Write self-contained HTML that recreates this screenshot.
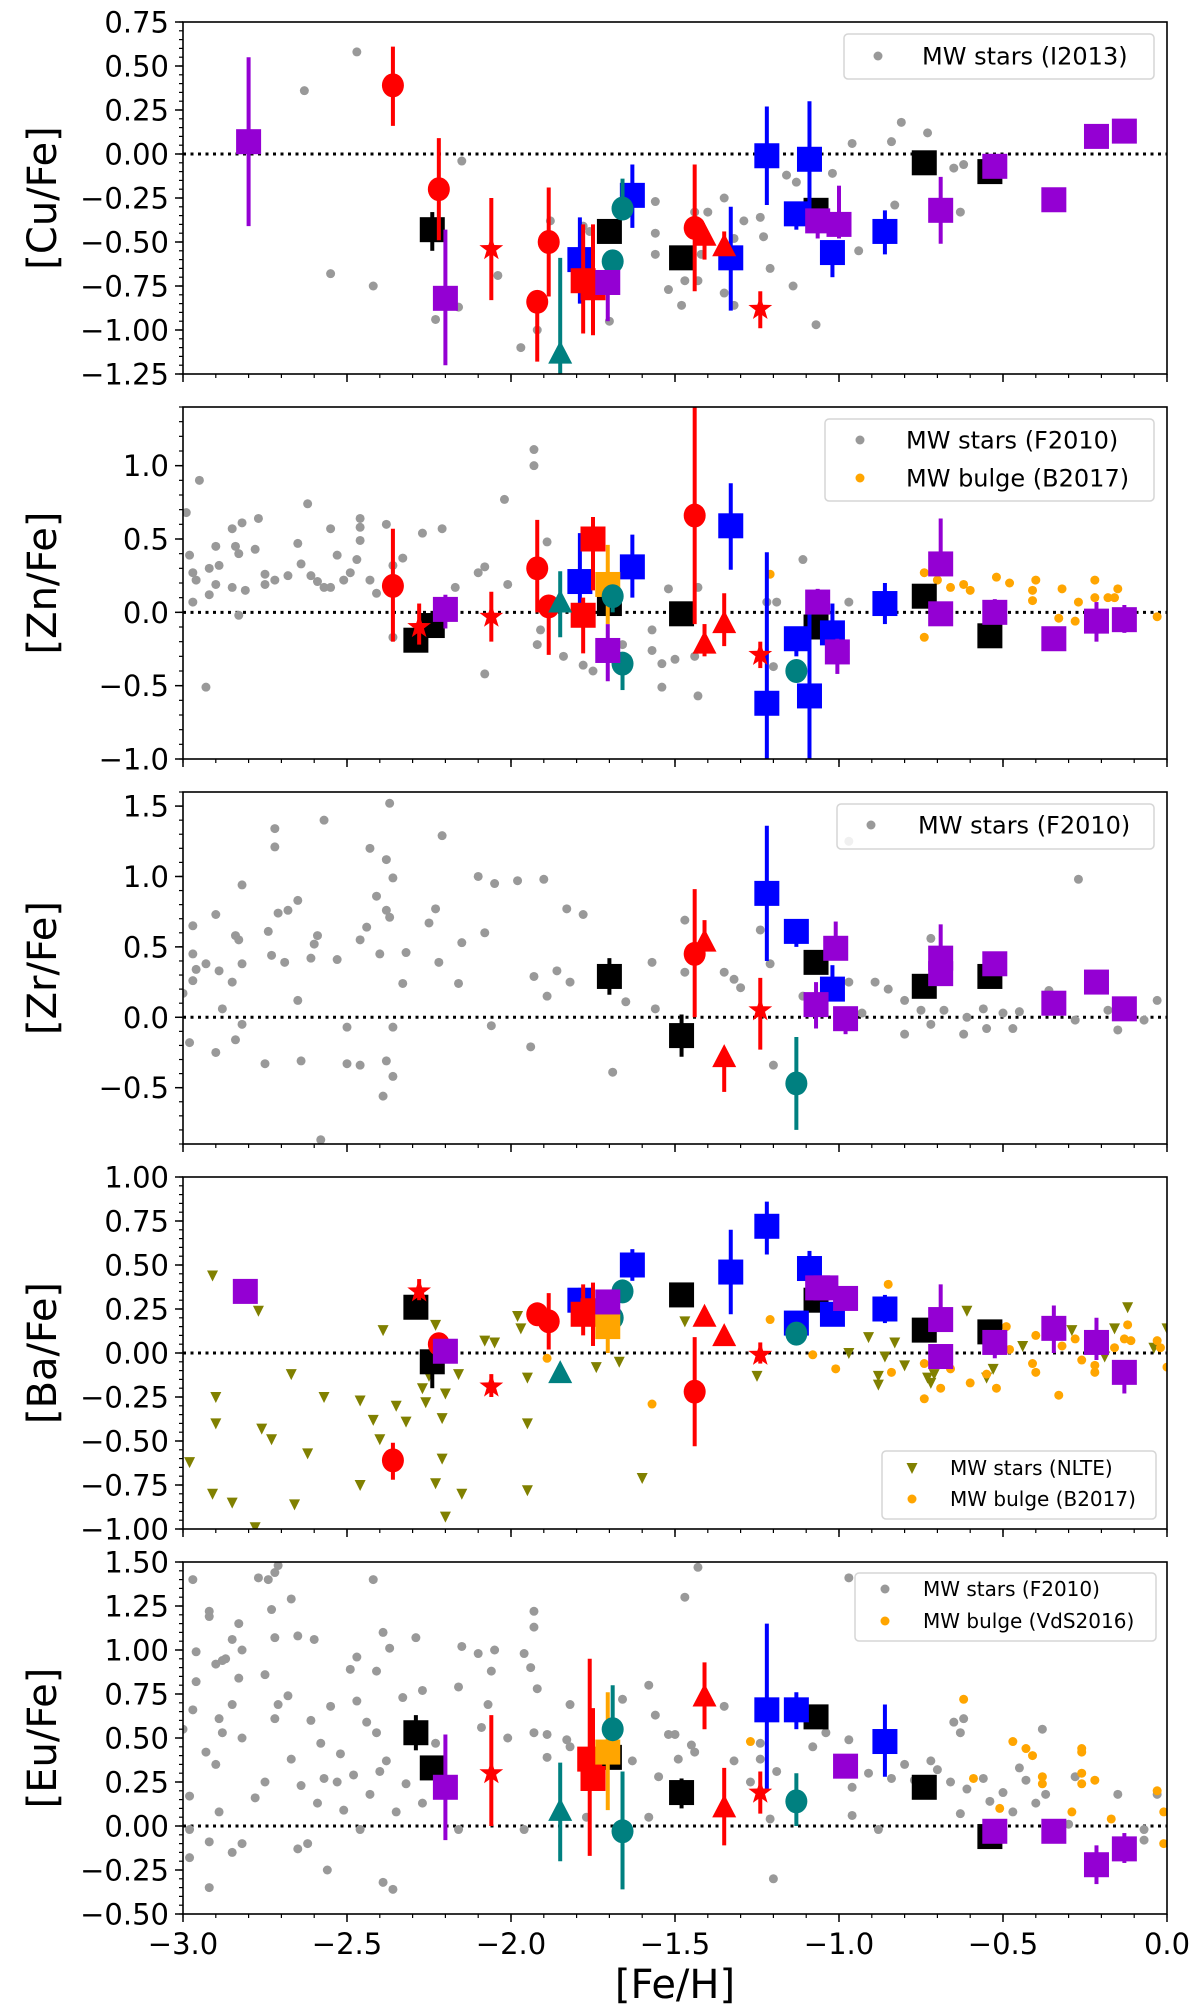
<!DOCTYPE html>
<html><head><meta charset="utf-8"><title>Abundance ratios vs [Fe/H]</title>
<style>
html,body{margin:0;padding:0;background:#fff;}
svg{display:block;font-family:"DejaVu Sans","Liberation Sans",sans-serif;}
</style></head>
<body>
<svg id="fig" width="1200" height="2012" viewBox="0 0 1200 2012" xmlns="http://www.w3.org/2000/svg"></svg>
<script>
// ---------- shared x axis ----------
const xTicks=[-3.0,-2.5,-2.0,-1.5,-1.0,-0.5,0.0];
const xTickLabels=["\u22123.0","\u22122.5","\u22122.0","\u22121.5","\u22121.0","\u22120.5","0.0"];

// ---------- Panel 1: [Cu/Fe] ----------
const cuMwX=[-2.47,-2.63,-2.15,-2.55,-2.42,-2.23,-2.16,-2.04,-1.97,-1.92,-1.88,-1.78,-1.76,-1.70,-1.56,-1.56,-1.56,-1.52,-1.47,-1.48,-1.44,-1.43,-1.40,-1.35,-1.35,-1.32,-1.32,-1.29,-1.24,-1.23,-1.21,-1.16,-1.13,-1.14,-1.07,-1.02,-0.96,-0.94,-0.84,-0.83,-0.81,-0.73,-0.65,-0.62,-0.63,-1.42];
const cuMwY=[0.58,0.36,-0.04,-0.68,-0.75,-0.94,-0.87,-0.69,-1.10,-1.00,-0.38,-0.41,-0.44,-0.95,-0.27,-0.45,-0.57,-0.77,-0.72,-0.86,-0.33,-0.72,-0.33,-0.25,-0.79,-0.48,-0.86,-0.38,-0.36,-0.47,-0.65,-0.12,-0.16,-0.75,-0.97,-0.11,0.06,-0.55,0.07,-0.29,0.18,0.12,-0.08,-0.06,-0.33,-0.57];
const cuBlackX=[-2.24,-1.70,-1.48,-1.07,-0.74,-0.54], cuBlackY=[-0.43,-0.44,-0.59,-0.32,-0.05,-0.10], cuBlackHi=[-0.33,-0.44,-0.56,-0.29,-0.05,-0.10], cuBlackLo=[-0.55,-0.44,-0.62,-0.32,-0.05,-0.12];
const cuPurpleX=[-2.80,-2.20,-1.705,-1.065,-1.00,-0.69,-0.525,-0.345,-0.215,-0.13], cuPurpleY=[0.07,-0.82,-0.73,-0.38,-0.40,-0.32,-0.07,-0.26,0.10,0.13], cuPurpleHi=[0.55,-0.43,-0.73,-0.38,-0.18,-0.13,-0.07,-0.26,0.11,0.13], cuPurpleLo=[-0.41,-1.20,-0.95,-0.48,-0.48,-0.51,-0.07,-0.26,0.07,0.13];
const cuBlueX=[-1.79,-1.63,-1.33,-1.22,-1.13,-1.09,-1.02,-0.86], cuBlueY=[-0.60,-0.235,-0.59,-0.01,-0.34,-0.03,-0.56,-0.44], cuBlueHi=[-0.36,-0.06,-0.30,0.27,-0.27,0.30,-0.56,-0.32], cuBlueLo=[-0.85,-0.42,-0.89,-0.29,-0.43,-0.43,-0.70,-0.57];
const cuRedCX=[-2.36,-2.22,-1.92,-1.885,-1.44], cuRedCY=[0.39,-0.20,-0.84,-0.50,-0.42], cuRedCHi=[0.61,0.09,-0.84,-0.19,-0.06], cuRedCLo=[0.16,-0.49,-1.18,-0.81,-0.78];
const cuRedStarX=[-2.06,-1.24], cuRedStarY=[-0.54,-0.88], cuRedStarHi=[-0.25,-0.78], cuRedStarLo=[-0.83,-0.99];
const cuRedTriX=[-1.41,-1.35], cuRedTriY=[-0.47,-0.53], cuRedTriHi=[-0.47,-0.44], cuRedTriLo=[-0.60,-0.53];
const cuRedSqX=[-1.78,-1.75], cuRedSqY=[-0.72,-0.76], cuRedSqHi=[-0.40,-0.40], cuRedSqLo=[-1.02,-1.03];
const cuTealCX=[-1.66,-1.69], cuTealCY=[-0.31,-0.61], cuTealCHi=[-0.14,-0.61], cuTealCLo=[-0.31,-0.61];
const cuTealTriX=[-1.85], cuTealTriY=[-1.14], cuTealTriHi=[-0.59], cuTealTriLo=[-1.25];

// ---------- Panel 2: [Zn/Fe] ----------
const znMwX=[-2.99,-2.95,-2.98,-2.97,-2.96,-2.97,-2.93,-2.92,-2.90,-2.90,-2.89,-2.92,-2.85,-2.85,-2.84,-2.83,-2.82,-2.81,-2.83,-2.78,-2.77,-2.75,-2.75,-2.72,-2.68,-2.65,-2.64,-2.62,-2.61,-2.59,-2.57,-2.55,-2.55,-2.53,-2.51,-2.49,-2.47,-2.46,-2.46,-2.46,-2.43,-2.41,-2.38,-2.36,-2.33,-2.27,-2.21,-2.17,-2.36,-2.10,-2.08,-2.08,-2.01,-2.02,-1.93,-1.93,-1.89,-1.92,-1.91,-1.84,-1.78,-1.75,-1.66,-1.57,-1.57,-1.54,-1.54,-1.52,-1.50,-1.43,-1.43,-1.44,-1.22,-1.19,-1.11,-1.20,-0.97];
const znMwY=[0.68,0.90,0.39,0.27,0.22,0.07,-0.51,0.30,0.45,0.19,0.32,0.12,0.57,0.17,0.45,0.40,0.61,0.15,-0.02,0.43,0.64,0.26,0.19,0.22,0.25,0.47,0.33,0.74,0.25,0.21,0.17,0.57,0.17,0.39,0.22,0.27,0.36,0.58,0.64,0.49,0.22,0.13,0.60,0.32,0.37,0.54,0.57,0.17,-0.17,0.27,0.31,-0.42,0.19,0.77,1.11,1.00,0.48,-0.22,-0.12,-0.30,-0.36,-0.40,-0.22,-0.12,-0.26,-0.35,-0.51,0.16,-0.32,-0.57,0.17,-0.30,0.07,0.07,0.36,-0.37,0.07];
const znBulgeX=[-1.21,-0.74,-0.74,-0.70,-0.66,-0.62,-0.60,-0.52,-0.48,-0.41,-0.41,-0.40,-0.33,-0.32,-0.28,-0.27,-0.22,-0.22,-0.18,-0.16,-0.15,-0.03];
const znBulgeY=[0.26,0.27,-0.17,0.22,0.17,0.19,0.15,0.24,0.20,0.15,0.08,0.22,-0.04,0.16,-0.06,0.07,0.22,0.10,0.10,0.10,0.16,-0.03];
const znBlackX=[-2.29,-2.24,-1.70,-1.48,-1.07,-0.74,-0.54], znBlackY=[-0.19,-0.09,0.06,-0.01,-0.10,0.11,-0.16], znBlackHi=[-0.16,-0.06,0.06,-0.01,-0.10,0.11,-0.16], znBlackLo=[-0.23,-0.12,0.06,-0.01,-0.10,0.11,-0.16];
const znPurpleX=[-2.20,-1.705,-1.065,-1.005,-0.69,-0.69,-0.525,-0.345,-0.215,-0.13], znPurpleY=[0.02,-0.26,0.07,-0.27,0.33,-0.01,0.00,-0.18,-0.06,-0.05], znPurpleHi=[0.12,-0.08,0.16,-0.18,0.64,-0.01,0.09,-0.18,0.07,0.05], znPurpleLo=[-0.11,-0.47,0.07,-0.42,0.33,-0.01,-0.02,-0.18,-0.20,-0.14];
const znBlueX=[-1.79,-1.63,-1.33,-1.22,-1.13,-1.09,-1.02,-0.86], znBlueY=[0.21,0.31,0.59,-0.62,-0.18,-0.57,-0.14,0.06], znBlueHi=[0.54,0.53,0.88,0.41,-0.10,0.06,0.06,0.20], znBlueLo=[0.00,0.10,0.29,-1.00,-0.30,-1.00,-0.22,-0.08];
const znRedCX=[-2.36,-1.92,-1.885,-1.44], znRedCY=[0.18,0.30,0.04,0.66], znRedCHi=[0.57,0.63,0.04,1.40], znRedCLo=[-0.20,0.00,-0.29,-0.08];
const znRedStarX=[-2.28,-2.06,-1.24], znRedStarY=[-0.10,-0.03,-0.29], znRedStarHi=[0.06,0.14,-0.20], znRedStarLo=[-0.22,-0.20,-0.38];
const znRedTriX=[-1.41,-1.35], znRedTriY=[-0.22,-0.08], znRedTriHi=[-0.08,0.13], znRedTriLo=[-0.30,-0.23];
const znRedSqX=[-1.75,-1.78], znRedSqY=[0.50,-0.02], znRedSqHi=[0.65,0.10], znRedSqLo=[0.15,-0.28];
const znOrangeX=[-1.705], znOrangeY=[0.19], znOrangeHi=[0.46], znOrangeLo=[-0.08];
const znTealCX=[-1.69,-1.66,-1.13], znTealCY=[0.11,-0.35,-0.40], znTealCHi=[0.11,-0.35,-0.40], znTealCLo=[0.00,-0.53,-0.40];
const znTealTriX=[-1.85], znTealTriY=[0.06], znTealTriHi=[0.28], znTealTriLo=[-0.17];

// ---------- Panel 3: [Zr/Fe] ----------
const zrMwX=[-3.0,-2.97,-2.97,-2.97,-2.96,-2.93,-2.98,-2.90,-2.90,-2.89,-2.88,-2.85,-2.84,-2.83,-2.82,-2.82,-2.82,-2.84,-2.75,-2.74,-2.73,-2.72,-2.72,-2.71,-2.69,-2.68,-2.65,-2.65,-2.64,-2.61,-2.60,-2.59,-2.57,-2.58,-2.53,-2.50,-2.50,-2.46,-2.46,-2.44,-2.43,-2.41,-2.40,-2.38,-2.38,-2.37,-2.36,-2.37,-2.39,-2.38,-2.36,-2.36,-2.33,-2.32,-2.25,-2.23,-2.22,-2.21,-2.16,-2.15,-2.10,-2.08,-2.06,-2.05,-1.98,-1.90,-1.94,-1.93,-1.89,-1.83,-1.78,-1.86,-1.82,-1.69,-1.65,-1.57,-1.56,-1.47,-1.47,-1.35,-1.32,-1.30,-1.24,-1.21,-1.20,-1.11,-0.97,-0.97,-0.93,-0.89,-0.85,-0.80,-0.80,-0.75,-0.72,-0.72,-0.68,-0.62,-0.61,-0.56,-0.55,-0.50,-0.47,-0.45,-0.36,-0.28,-0.27,-0.15,-0.07,-0.03,-0.18];
const zrMwY=[0.17,0.65,0.45,0.26,0.34,0.38,-0.18,0.73,-0.25,0.33,0.06,0.25,0.58,0.55,0.38,0.94,-0.05,-0.16,-0.33,0.61,0.44,1.34,1.21,0.74,0.39,0.76,0.83,0.12,-0.31,0.42,0.52,0.58,1.40,-0.87,0.41,-0.07,-0.33,-0.34,0.55,0.64,1.20,0.86,0.45,0.76,1.12,0.71,0.99,1.52,-0.56,-0.31,-0.42,-0.07,0.24,0.46,0.67,0.77,0.39,1.29,0.24,0.53,1.00,0.60,-0.06,0.95,0.97,0.98,-0.21,0.29,0.15,0.77,0.73,0.33,0.25,-0.39,0.11,0.39,0.06,0.69,0.32,0.32,0.27,0.21,0.62,0.38,-0.34,0.15,1.25,0.25,0.03,0.25,0.20,0.12,-0.12,0.05,-0.05,0.56,0.05,-0.12,0.00,0.06,-0.08,0.03,-0.08,0.04,0.19,-0.02,0.98,-0.09,-0.02,0.12,0.05];
const zrBlackX=[-1.70,-1.48,-1.07,-0.74,-0.54], zrBlackY=[0.29,-0.13,0.39,0.22,0.29], zrBlackHi=[0.42,0.02,0.39,0.22,0.29], zrBlackLo=[0.16,-0.28,0.39,0.22,0.29];
const zrBlueX=[-1.22,-1.13,-1.02], zrBlueY=[0.88,0.61,0.20], zrBlueHi=[1.36,0.65,0.37], zrBlueLo=[0.40,0.50,0.20];
const zrPurpleX=[-1.01,-1.07,-0.98,-0.69,-0.69,-0.525,-0.345,-0.215,-0.13], zrPurpleY=[0.49,0.09,-0.01,0.42,0.31,0.38,0.10,0.25,0.06], zrPurpleHi=[0.68,0.25,0.07,0.66,0.31,0.38,0.10,0.25,0.06], zrPurpleLo=[0.49,-0.08,-0.12,0.42,0.31,0.38,0.10,0.25,0.06];
const zrRedCX=[-1.44], zrRedCY=[0.45], zrRedCHi=[0.91], zrRedCLo=[0.00];
const zrRedTriX=[-1.41,-1.35], zrRedTriY=[0.53,-0.29], zrRedTriHi=[0.69,-0.29], zrRedTriLo=[0.53,-0.53];
const zrRedStarX=[-1.24], zrRedStarY=[0.05], zrRedStarHi=[0.28], zrRedStarLo=[-0.23];
const zrTealCX=[-1.13], zrTealCY=[-0.47], zrTealCHi=[-0.14], zrTealCLo=[-0.80];

// ---------- Panel 4: [Ba/Fe] ----------
const baNlteX=[-2.98,-2.91,-2.90,-2.90,-2.91,-2.85,-2.78,-2.77,-2.76,-2.73,-2.67,-2.66,-2.62,-2.57,-2.46,-2.46,-2.42,-2.40,-2.39,-2.35,-2.32,-2.27,-2.26,-2.25,-2.23,-2.23,-2.21,-2.21,-2.20,-2.20,-2.16,-2.15,-2.08,-2.05,-1.98,-1.97,-1.95,-1.95,-1.95,-1.74,-1.67,-1.60,-1.47,-1.25,-0.97,-0.91,-0.88,-0.88,-0.86,-0.83,-0.80,-0.73,-0.72,-0.71,-0.61,-0.55,-0.53,-0.44,-0.29,-0.19,-0.16,-0.12,-0.04,0.00];
const baNlteY=[-0.62,0.44,-0.25,-0.40,-0.80,-0.85,-0.99,0.24,-0.43,-0.49,-0.12,-0.86,-0.57,-0.25,-0.27,-0.75,-0.38,-0.49,0.13,-0.30,-0.39,-0.20,-0.28,-0.13,-0.74,0.16,-0.60,-0.37,-0.93,-0.23,-0.12,-0.80,0.07,0.06,0.21,0.14,-0.14,-0.40,-0.78,-0.08,-0.05,-0.71,0.18,-0.13,0.00,0.09,-0.13,-0.18,-0.02,0.06,-0.07,-0.14,-0.17,-0.12,0.24,-0.14,-0.09,0.04,0.13,-0.02,0.14,0.26,0.03,0.14];
const baBulgeX=[-1.89,-1.57,-1.21,-1.08,-1.01,-0.85,-0.84,-0.74,-0.74,-0.69,-0.66,-0.60,-0.55,-0.52,-0.49,-0.48,-0.41,-0.40,-0.40,-0.33,-0.32,-0.28,-0.26,-0.22,-0.22,-0.16,-0.13,-0.12,-0.11,-0.03,-0.02,0.00];
const baBulgeY=[-0.03,-0.29,0.19,-0.01,-0.09,0.39,-0.11,-0.06,-0.26,-0.20,-0.09,-0.17,-0.12,-0.20,0.15,0.02,-0.06,-0.11,0.10,-0.24,0.04,0.08,-0.04,-0.07,-0.11,0.03,0.08,0.16,0.07,0.07,0.03,-0.08];
const baBlackX=[-2.29,-2.24,-1.48,-1.07,-0.74,-0.54], baBlackY=[0.26,-0.05,0.33,0.30,0.13,0.12], baBlackHi=[0.26,-0.05,0.33,0.30,0.13,0.12], baBlackLo=[0.26,-0.20,0.33,0.30,0.13,0.12];
const baPurpleX=[-2.81,-2.20,-1.705,-1.065,-1.04,-0.98,-0.69,-0.69,-0.525,-0.345,-0.215,-0.13], baPurpleY=[0.35,0.01,0.29,0.37,0.37,0.31,0.19,-0.02,0.06,0.14,0.06,-0.11], baPurpleHi=[0.35,0.01,0.29,0.37,0.37,0.31,0.39,-0.02,0.10,0.27,0.20,-0.11], baPurpleLo=[0.35,0.01,0.29,0.37,0.37,0.31,0.19,-0.02,-0.03,0.00,-0.04,-0.23];
const baBlueX=[-1.79,-1.63,-1.33,-1.22,-1.09,-1.13,-1.02,-0.86], baBlueY=[0.30,0.50,0.46,0.72,0.48,0.17,0.22,0.25], baBlueHi=[0.37,0.59,0.70,0.86,0.58,0.17,0.22,0.33], baBlueLo=[0.30,0.41,0.22,0.56,0.48,0.17,0.16,0.17];
const baRedCX=[-2.36,-2.22,-1.92,-1.885,-1.44], baRedCY=[-0.61,0.05,0.22,0.18,-0.22], baRedCHi=[-0.51,0.05,0.22,0.34,0.09], baRedCLo=[-0.72,0.05,0.22,0.02,-0.53];
const baRedStarX=[-2.28,-2.06,-1.24], baRedStarY=[0.35,-0.19,-0.01], baRedStarHi=[0.42,-0.12,0.06], baRedStarLo=[0.30,-0.25,-0.06];
const baRedTriX=[-1.41,-1.35], baRedTriY=[0.20,0.09], baRedTriHi=[0.20,0.09], baRedTriLo=[0.20,0.09];
const baRedSqX=[-1.78,-1.75], baRedSqY=[0.22,0.24], baRedSqHi=[0.39,0.40], baRedSqLo=[0.10,0.04];
const baOrangeX=[-1.705], baOrangeY=[0.15], baOrangeHi=[0.15], baOrangeLo=[0.00];
const baTealCX=[-1.66,-1.69,-1.13], baTealCY=[0.35,0.20,0.11], baTealCHi=[0.35,0.20,0.11], baTealCLo=[0.35,0.20,0.11];
const baTealTriX=[-1.85], baTealTriY=[-0.12], baTealTriHi=[-0.12], baTealTriLo=[-0.12];

// ---------- Panel 5: [Eu/Fe] ----------
const euMwX=[-3.0,-2.97,-2.96,-2.96,-2.97,-2.98,-2.98,-2.98,-2.92,-2.92,-2.93,-2.92,-2.92,-2.90,-2.90,-2.89,-2.88,-2.88,-2.87,-2.89,-2.85,-2.85,-2.85,-2.83,-2.83,-2.82,-2.82,-2.82,-2.78,-2.77,-2.75,-2.75,-2.74,-2.73,-2.72,-2.72,-2.72,-2.71,-2.71,-2.68,-2.67,-2.67,-2.65,-2.65,-2.64,-2.62,-2.61,-2.60,-2.59,-2.58,-2.57,-2.56,-2.55,-2.53,-2.52,-2.51,-2.49,-2.48,-2.47,-2.47,-2.46,-2.44,-2.43,-2.42,-2.41,-2.41,-2.40,-2.39,-2.39,-2.38,-2.37,-2.36,-2.35,-2.33,-2.32,-2.29,-2.27,-2.27,-2.23,-2.16,-2.16,-2.15,-2.09,-2.10,-2.05,-2.06,-2.07,-2.01,-1.96,-1.94,-1.93,-1.93,-1.92,-1.93,-1.96,-1.89,-1.89,-1.82,-1.83,-1.82,-1.77,-1.66,-1.63,-1.58,-1.58,-1.56,-1.55,-1.52,-1.50,-1.49,-1.47,-1.44,-1.43,-1.45,-1.35,-1.32,-1.27,-1.24,-1.24,-1.21,-1.20,-1.19,-1.08,-1.04,-0.97,-0.97,-0.96,-0.96,-0.91,-0.88,-0.84,-0.80,-0.77,-0.72,-0.70,-0.65,-0.63,-0.62,-0.66,-0.63,-0.61,-0.56,-0.54,-0.50,-0.47,-0.45,-0.43,-0.40,-0.38,-0.37,-0.30,-0.28,-0.15,-0.07,-0.07,-0.03];
const euMwY=[0.55,1.40,0.99,0.82,0.66,-0.02,0.17,-0.18,1.22,1.19,0.42,-0.09,-0.35,0.92,0.35,0.61,0.53,0.94,0.95,0.08,-0.15,1.06,0.69,0.84,1.15,1.00,0.50,-0.10,0.16,1.41,0.86,0.25,1.40,1.23,1.44,0.61,1.07,1.48,0.69,0.74,1.29,0.38,1.08,-0.13,0.23,-0.10,0.60,1.06,0.13,0.47,0.27,-0.25,0.68,0.25,0.41,0.09,0.89,0.29,0.96,0.71,-0.02,0.59,0.18,1.40,0.88,0.53,0.31,1.10,-0.32,0.37,1.01,-0.36,0.08,0.73,0.24,1.07,0.77,0.13,0.47,-0.02,0.79,1.02,0.56,0.98,1.00,0.88,0.69,0.50,0.98,0.90,1.22,1.13,0.78,0.53,-0.02,0.52,0.39,0.69,0.49,0.45,0.05,0.72,0.37,0.80,0.05,0.63,0.28,0.52,0.52,0.38,1.30,0.42,1.47,0.46,0.68,0.37,0.25,0.47,0.38,0.04,-0.30,0.31,0.45,0.53,1.41,0.49,0.22,0.06,0.30,-0.02,0.27,0.35,0.26,0.37,0.32,0.59,0.53,0.61,0.25,0.07,0.21,0.27,0.14,0.19,0.08,0.33,0.26,0.13,0.55,0.18,0.01,0.28,0.18,-0.08,-0.02,0.18];
const euBulgeX=[-1.27,-0.62,-0.59,-0.51,-0.47,-0.43,-0.41,-0.38,-0.38,-0.29,-0.26,-0.26,-0.26,-0.26,-0.22,-0.17,-0.03,-0.01,-0.01];
const euBulgeY=[0.48,0.72,0.27,0.10,0.48,0.44,0.40,0.28,0.24,0.08,0.44,0.42,0.30,0.24,0.26,0.04,0.20,0.08,-0.10];
const euBlackX=[-2.29,-2.24,-1.70,-1.48,-1.07,-0.74,-0.54], euBlackY=[0.53,0.33,0.39,0.19,0.62,0.22,-0.06], euBlackHi=[0.63,0.33,0.39,0.27,0.62,0.22,-0.06], euBlackLo=[0.43,0.33,0.39,0.10,0.62,0.22,-0.06];
const euPurpleX=[-2.20,-0.98,-0.525,-0.345,-0.215,-0.13], euPurpleY=[0.22,0.34,-0.03,-0.03,-0.22,-0.13], euPurpleHi=[0.52,0.34,-0.03,-0.03,-0.11,-0.04], euPurpleLo=[-0.08,0.34,-0.03,-0.03,-0.33,-0.21];
const euBlueX=[-1.22,-1.13,-0.86], euBlueY=[0.66,0.66,0.48], euBlueHi=[1.15,0.76,0.69], euBlueLo=[0.20,0.55,0.28];
const euRedSqX=[-1.76,-1.75], euRedSqY=[0.38,0.27], euRedSqHi=[0.95,0.67], euRedSqLo=[-0.17,0.27];
const euRedStarX=[-2.06,-1.24], euRedStarY=[0.30,0.19], euRedStarHi=[0.63,0.31], euRedStarLo=[0.00,0.07];
const euRedTriX=[-1.41,-1.35], euRedTriY=[0.73,0.10], euRedTriHi=[0.93,0.33], euRedTriLo=[0.55,-0.11];
const euOrangeX=[-1.705], euOrangeY=[0.42], euOrangeHi=[0.76], euOrangeLo=[0.09];
const euTealCX=[-1.69,-1.66,-1.13], euTealCY=[0.55,-0.03,0.14], euTealCHi=[0.80,0.31,0.30], euTealCLo=[0.55,-0.36,0.00];
const euTealTriX=[-1.85], euTealTriY=[0.08], euTealTriHi=[0.36], euTealTriLo=[-0.20];

// ---------- rendering ----------
const NS="http://www.w3.org/2000/svg";
const svg=document.getElementById('fig');
const X0=183, X1=1167, XMIN=-3, XMAX=0;
const xScale=v=>X0+(v-XMIN)/(XMAX-XMIN)*(X1-X0);
const C={black:"#000000",purple:"#9400d3",blue:"#0000ff",red:"#ff0000",teal:"#008080",orange:"#ffa500",grey:"#999999",olive:"#808000"};

function mk(tag,attrs,parent){const e=document.createElementNS(NS,tag);for(const k in attrs)e.setAttribute(k,attrs[k]);(parent||svg).appendChild(e);return e;}

function marker(g,shape,cx,cy,color){
  let e;
  if(shape==='sq'){e=mk('rect',{x:cx-12.5,y:cy-12.5,width:25,height:25,fill:color},g);}
  else if(shape==='ci'){e=mk('ellipse',{cx:cx,cy:cy,rx:11,ry:12,fill:color},g);}
  else if(shape==='tu'){e=mk('polygon',{points:`${cx},${cy-14} ${cx+12},${cy+9} ${cx-12},${cy+9}`,fill:color},g);}
  else if(shape==='st'){let p=[];for(let i=0;i<10;i++){const r=i%2?5:12.5;const a=-Math.PI/2+i*Math.PI/5;p.push((cx+r*Math.cos(a)).toFixed(1)+','+(cy+r*Math.sin(a)).toFixed(1));}e=mk('polygon',{points:p.join(' '),fill:color},g);}
  else if(shape==='td'){e=mk('polygon',{points:`${cx-5.5},${cy-5} ${cx+5.5},${cy-5} ${cx},${cy+6}`,fill:color},g);}
  else {e=mk('circle',{cx:cx,cy:cy,r:4.5,fill:color},g);}
  return e;
}

function panel(p){
  const top=p.top, bot=p.top+352;
  const yScale=v=>bot-(v-p.ymin)/(p.ymax-p.ymin)*(bot-top);
  const g=mk('g',{});
  
  
  const cid='clip-'+p.name;
  const cp=mk('clipPath',{id:cid},g);mk('rect',{x:X0,y:top,width:X1-X0,height:bot-top},cp);
  const plot=mk('g',{'clip-path':`url(#${cid})`},g);
  
  
  // zero line
  const zl=mk('line',{x1:X0,x2:X1,y1:yScale(0),y2:yScale(0),stroke:'#000','stroke-width':3,'stroke-dasharray':'3,4.5'},plot);
  
  
  // background scatter
  p.bg.forEach(b=>{
    const bg=mk('g',{},plot);
    
    
    for(let i=0;i<b.x.length;i++){
      const m=marker(bg,b.shape,xScale(b.x[i]),yScale(b.y[i]),b.color);
      
      
    }
  });
  // error bars then markers
  p.series.forEach(s=>{
    const sg=mk('g',{},plot);
    
    
    for(let i=0;i<s.x.length;i++){
      if(s.hi && s.hi[i]!==s.lo[i]){
        const eb=mk('line',{x1:xScale(s.x[i]),x2:xScale(s.x[i]),y1:yScale(s.hi[i]),y2:yScale(s.lo[i]),stroke:s.color,'stroke-width':4},sg);
        
        
      }
    }
    for(let i=0;i<s.x.length;i++){
      const m=marker(sg,s.shape,xScale(s.x[i]),yScale(s.y[i]),s.color);
      
      
    }
  });
  // frame
  const fr=mk('rect',{x:X0,y:top,width:X1-X0,height:bot-top,fill:'none',stroke:'#000','stroke-width':1.6},g);
  
  
  // y ticks
  const ya=mk('g',{},g);
  
  
  const nMin=Math.round((p.ymax-p.ymin)/p.minor);
  for(let k=0;k<=nMin;k++){const v=p.ymin+k*p.minor;mk('line',{x1:X0-4,x2:X0,y1:yScale(v),y2:yScale(v),stroke:'#000','stroke-width':1.2},ya);}
  p.yTicks.forEach((v,i)=>{
    mk('line',{x1:X0-8,x2:X0,y1:yScale(v),y2:yScale(v),stroke:'#000','stroke-width':1.5},ya);
    const t=mk('text',{x:169,y:yScale(v)+10.5,'text-anchor':'end','font-size':29,fill:'#000'},ya);
    t.textContent=p.yTickLabels[i];
    
    
  });
  const yl=mk('text',{x:0,y:0,'text-anchor':'middle','font-size':40,fill:'#000',transform:`translate(56,${(top+bot)/2}) rotate(-90)`},g);
  yl.textContent=p.label;
  
  
  // x ticks
  const xa=mk('g',{},g);
  
  
  for(let k=0;k<=30;k++){const v=-3+k*0.1;mk('line',{x1:xScale(v),x2:xScale(v),y1:bot,y2:bot+4,stroke:'#000','stroke-width':1.2},xa);}
  xTicks.forEach(v=>mk('line',{x1:xScale(v),x2:xScale(v),y1:bot,y2:bot+8,stroke:'#000','stroke-width':1.5},xa));
  // legend
  const L=p.legend;
  const lg=mk('g',{},g);
  
  
  mk('rect',{x:L.x,y:L.y,width:L.w,height:L.h,rx:4,fill:'#fff','fill-opacity':0.85,stroke:'#d5d5d5','stroke-width':1.5},lg);
  L.items.forEach(it=>{
    const ent=mk('g',{},lg);
    
    
    marker(ent,it.shape,it.mx,it.my,it.color);
    const t=mk('text',{x:it.tx,y:it.my+L.fs*0.36,'font-size':L.fs,fill:'#000'},ent);
    t.textContent=it.text;
  });
  return bot;
}

const panels=[
 {name:'cu',top:22,ymin:-1.25,ymax:0.75,minor:0.05,label:'[Cu/Fe]',
  yTicks:[-1.25,-1.0,-0.75,-0.5,-0.25,0,0.25,0.5,0.75],
  yTickLabels:["\u22121.25","\u22121.00","\u22120.75","\u22120.50","\u22120.25","0.00","0.25","0.50","0.75"],
  bg:[{name:'mw-stars-i2013',x:cuMwX,y:cuMwY,shape:'dot',color:C.grey}],
  series:[
   {name:'cu-black-squares',x:cuBlackX,y:cuBlackY,hi:cuBlackHi,lo:cuBlackLo,shape:'sq',color:C.black},
   {name:'cu-blue-squares',x:cuBlueX,y:cuBlueY,hi:cuBlueHi,lo:cuBlueLo,shape:'sq',color:C.blue},
   {name:'cu-red-circles',x:cuRedCX,y:cuRedCY,hi:cuRedCHi,lo:cuRedCLo,shape:'ci',color:C.red},
   {name:'cu-red-squares',x:cuRedSqX,y:cuRedSqY,hi:cuRedSqHi,lo:cuRedSqLo,shape:'sq',color:C.red},
   {name:'cu-red-stars',x:cuRedStarX,y:cuRedStarY,hi:cuRedStarHi,lo:cuRedStarLo,shape:'st',color:C.red},
   {name:'cu-red-triangles',x:cuRedTriX,y:cuRedTriY,hi:cuRedTriHi,lo:cuRedTriLo,shape:'tu',color:C.red},
   {name:'cu-teal-circles',x:cuTealCX,y:cuTealCY,hi:cuTealCHi,lo:cuTealCLo,shape:'ci',color:C.teal},
   {name:'cu-teal-triangles',x:cuTealTriX,y:cuTealTriY,hi:cuTealTriHi,lo:cuTealTriLo,shape:'tu',color:C.teal},
   {name:'cu-purple-squares',x:cuPurpleX,y:cuPurpleY,hi:cuPurpleHi,lo:cuPurpleLo,shape:'sq',color:C.purple}],
  legend:{x:844,y:34,w:310,h:45,fs:24,items:[{shape:'dot',color:C.grey,mx:878,my:56,tx:922,text:'MW stars (I2013)'}]}},
 {name:'zn',top:407,ymin:-1.0,ymax:1.4,minor:0.1,label:'[Zn/Fe]',
  yTicks:[-1.0,-0.5,0,0.5,1.0],yTickLabels:["\u22121.0","\u22120.5","0.0","0.5","1.0"],
  bg:[{name:'mw-stars-f2010',x:znMwX,y:znMwY,shape:'dot',color:C.grey},{name:'mw-bulge-b2017',x:znBulgeX,y:znBulgeY,shape:'dot',color:C.orange}],
  series:[
   {name:'zn-black-squares',x:znBlackX,y:znBlackY,hi:znBlackHi,lo:znBlackLo,shape:'sq',color:C.black},
   {name:'zn-blue-squares',x:znBlueX,y:znBlueY,hi:znBlueHi,lo:znBlueLo,shape:'sq',color:C.blue},
   {name:'zn-red-circles',x:znRedCX,y:znRedCY,hi:znRedCHi,lo:znRedCLo,shape:'ci',color:C.red},
   {name:'zn-red-squares',x:znRedSqX,y:znRedSqY,hi:znRedSqHi,lo:znRedSqLo,shape:'sq',color:C.red},
   {name:'zn-red-stars',x:znRedStarX,y:znRedStarY,hi:znRedStarHi,lo:znRedStarLo,shape:'st',color:C.red},
   {name:'zn-red-triangles',x:znRedTriX,y:znRedTriY,hi:znRedTriHi,lo:znRedTriLo,shape:'tu',color:C.red},
   {name:'zn-orange-squares',x:znOrangeX,y:znOrangeY,hi:znOrangeHi,lo:znOrangeLo,shape:'sq',color:C.orange},
   {name:'zn-teal-circles',x:znTealCX,y:znTealCY,hi:znTealCHi,lo:znTealCLo,shape:'ci',color:C.teal},
   {name:'zn-teal-triangles',x:znTealTriX,y:znTealTriY,hi:znTealTriHi,lo:znTealTriLo,shape:'tu',color:C.teal},
   {name:'zn-purple-squares',x:znPurpleX,y:znPurpleY,hi:znPurpleHi,lo:znPurpleLo,shape:'sq',color:C.purple}],
  legend:{x:825,y:419,w:329,h:82,fs:24,items:[{shape:'dot',color:C.grey,mx:860,my:440,tx:906,text:'MW stars (F2010)'},{shape:'dot',color:C.orange,mx:860,my:478,tx:906,text:'MW bulge (B2017)'}]}},
 {name:'zr',top:792,ymin:-0.9,ymax:1.6,minor:0.1,label:'[Zr/Fe]',
  yTicks:[-0.5,0,0.5,1.0,1.5],yTickLabels:["\u22120.5","0.0","0.5","1.0","1.5"],
  bg:[{name:'mw-stars-f2010',x:zrMwX,y:zrMwY,shape:'dot',color:C.grey}],
  series:[
   {name:'zr-black-squares',x:zrBlackX,y:zrBlackY,hi:zrBlackHi,lo:zrBlackLo,shape:'sq',color:C.black},
   {name:'zr-blue-squares',x:zrBlueX,y:zrBlueY,hi:zrBlueHi,lo:zrBlueLo,shape:'sq',color:C.blue},
   {name:'zr-red-circles',x:zrRedCX,y:zrRedCY,hi:zrRedCHi,lo:zrRedCLo,shape:'ci',color:C.red},
   {name:'zr-red-triangles',x:zrRedTriX,y:zrRedTriY,hi:zrRedTriHi,lo:zrRedTriLo,shape:'tu',color:C.red},
   {name:'zr-red-stars',x:zrRedStarX,y:zrRedStarY,hi:zrRedStarHi,lo:zrRedStarLo,shape:'st',color:C.red},
   {name:'zr-teal-circles',x:zrTealCX,y:zrTealCY,hi:zrTealCHi,lo:zrTealCLo,shape:'ci',color:C.teal},
   {name:'zr-purple-squares',x:zrPurpleX,y:zrPurpleY,hi:zrPurpleHi,lo:zrPurpleLo,shape:'sq',color:C.purple}],
  legend:{x:837,y:804,w:317,h:45,fs:24,items:[{shape:'dot',color:C.grey,mx:871,my:825,tx:918,text:'MW stars (F2010)'}]}},
 {name:'ba',top:1177,ymin:-1.0,ymax:1.0,minor:0.05,label:'[Ba/Fe]',
  yTicks:[-1.0,-0.75,-0.5,-0.25,0,0.25,0.5,0.75,1.0],
  yTickLabels:["\u22121.00","\u22120.75","\u22120.50","\u22120.25","0.00","0.25","0.50","0.75","1.00"],
  bg:[{name:'mw-stars-nlte',x:baNlteX,y:baNlteY,shape:'td',color:C.olive},{name:'mw-bulge-b2017',x:baBulgeX,y:baBulgeY,shape:'dot',color:C.orange}],
  series:[
   {name:'ba-black-squares',x:baBlackX,y:baBlackY,hi:baBlackHi,lo:baBlackLo,shape:'sq',color:C.black},
   {name:'ba-blue-squares',x:baBlueX,y:baBlueY,hi:baBlueHi,lo:baBlueLo,shape:'sq',color:C.blue},
   {name:'ba-red-circles',x:baRedCX,y:baRedCY,hi:baRedCHi,lo:baRedCLo,shape:'ci',color:C.red},
   {name:'ba-red-squares',x:baRedSqX,y:baRedSqY,hi:baRedSqHi,lo:baRedSqLo,shape:'sq',color:C.red},
   {name:'ba-red-stars',x:baRedStarX,y:baRedStarY,hi:baRedStarHi,lo:baRedStarLo,shape:'st',color:C.red},
   {name:'ba-red-triangles',x:baRedTriX,y:baRedTriY,hi:baRedTriHi,lo:baRedTriLo,shape:'tu',color:C.red},
   {name:'ba-teal-circles',x:baTealCX,y:baTealCY,hi:baTealCHi,lo:baTealCLo,shape:'ci',color:C.teal},
   {name:'ba-orange-squares',x:baOrangeX,y:baOrangeY,hi:baOrangeHi,lo:baOrangeLo,shape:'sq',color:C.orange},
   {name:'ba-teal-triangles',x:baTealTriX,y:baTealTriY,hi:baTealTriHi,lo:baTealTriLo,shape:'tu',color:C.teal},
   {name:'ba-purple-squares',x:baPurpleX,y:baPurpleY,hi:baPurpleHi,lo:baPurpleLo,shape:'sq',color:C.purple}],
  legend:{x:882,y:1451,w:274,h:68,fs:20,items:[{shape:'td',color:C.olive,mx:912,my:1468,tx:950,text:'MW stars (NLTE)'},{shape:'dot',color:C.orange,mx:912,my:1499,tx:950,text:'MW bulge (B2017)'}]}},
 {name:'eu',top:1562,ymin:-0.5,ymax:1.5,minor:0.05,label:'[Eu/Fe]',
  yTicks:[-0.5,-0.25,0,0.25,0.5,0.75,1.0,1.25,1.5],
  yTickLabels:["\u22120.50","\u22120.25","0.00","0.25","0.50","0.75","1.00","1.25","1.50"],
  bg:[{name:'mw-stars-f2010',x:euMwX,y:euMwY,shape:'dot',color:C.grey},{name:'mw-bulge-vds2016',x:euBulgeX,y:euBulgeY,shape:'dot',color:C.orange}],
  series:[
   {name:'eu-black-squares',x:euBlackX,y:euBlackY,hi:euBlackHi,lo:euBlackLo,shape:'sq',color:C.black},
   {name:'eu-blue-squares',x:euBlueX,y:euBlueY,hi:euBlueHi,lo:euBlueLo,shape:'sq',color:C.blue},
   {name:'eu-red-squares',x:euRedSqX,y:euRedSqY,hi:euRedSqHi,lo:euRedSqLo,shape:'sq',color:C.red},
   {name:'eu-red-stars',x:euRedStarX,y:euRedStarY,hi:euRedStarHi,lo:euRedStarLo,shape:'st',color:C.red},
   {name:'eu-red-triangles',x:euRedTriX,y:euRedTriY,hi:euRedTriHi,lo:euRedTriLo,shape:'tu',color:C.red},
   {name:'eu-orange-squares',x:euOrangeX,y:euOrangeY,hi:euOrangeHi,lo:euOrangeLo,shape:'sq',color:C.orange},
   {name:'eu-teal-circles',x:euTealCX,y:euTealCY,hi:euTealCHi,lo:euTealCLo,shape:'ci',color:C.teal},
   {name:'eu-teal-triangles',x:euTealTriX,y:euTealTriY,hi:euTealTriHi,lo:euTealTriLo,shape:'tu',color:C.teal},
   {name:'eu-purple-squares',x:euPurpleX,y:euPurpleY,hi:euPurpleHi,lo:euPurpleLo,shape:'sq',color:C.purple}],
  legend:{x:855,y:1573,w:301,h:68,fs:20,items:[{shape:'dot',color:C.grey,mx:885,my:1589,tx:923,text:'MW stars (F2010)'},{shape:'dot',color:C.orange,mx:885,my:1621,tx:923,text:'MW bulge (VdS2016)'}]}}
];

let lastBot=0;
panels.forEach(p=>{lastBot=panel(p);});

// bottom x tick labels and title
const xl=mk('g',{});


xTicks.forEach((v,i)=>{
  const t=mk('text',{x:xScale(v),y:lastBot+40,'text-anchor':'middle','font-size':29,fill:'#000'},xl);
  t.textContent=xTickLabels[i];
  
  
});
const xt=mk('text',{x:(X0+X1)/2,y:lastBot+84,'text-anchor':'middle','font-size':40,fill:'#000'});
xt.textContent='[Fe/H]';


</script>
</body></html>
